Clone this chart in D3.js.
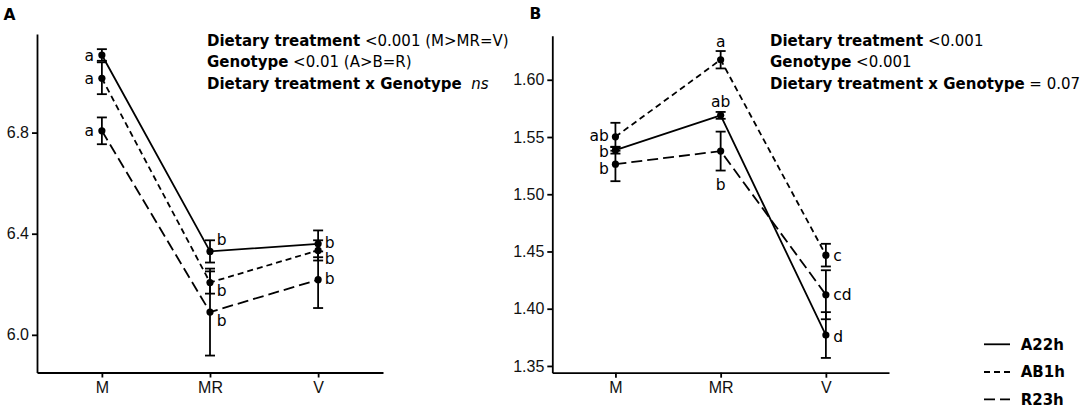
<!DOCTYPE html>
<html>
<head>
<meta charset="utf-8">
<script src="https://cdn.jsdelivr.net/npm/d3@7"></script>
<style>
  html, body { margin: 0; padding: 0; background: #fff; }
  svg { display: block; }
</style>
</head>
<body>
<svg id="chart" width="1084" height="412"></svg>
<script>
// ---------------- DATA ----------------
const categories = ["M", "MR", "V"];
const genotypes = ["A22h", "AB1h", "R23h"];

// Panel A means and error (SE)
const a_A22h = [7.107, 6.330, 6.360];
const a_AB1h = [7.015, 6.207, 6.334];
const a_R23h = [6.807, 6.090, 6.218];
const a_A22h_err = [0.023, 0.044, 0.053];
const a_AB1h_err = [0.063, 0.044, 0.040];
const a_R23h_err = [0.053, 0.172, 0.112];
const a_A22h_letters = ["a", "b", "b"];
const a_AB1h_letters = ["a", "b", "b"];
const a_R23h_letters = ["a", "b", "b"];
const a_ticks = [6.0, 6.4, 6.8];
const a_tickLabels = ["6.0", "6.4", "6.8"];

// Panel B means and error (SE)
const b_A22h = [1.5385, 1.5689, 1.3770];
const b_AB1h = [1.5502, 1.6175, 1.4468];
const b_R23h = [1.5263, 1.5377, 1.4122];
const b_A22h_err = [0.003, 0.003, 0.020];
const b_AB1h_err = [0.0122, 0.0076, 0.0099];
const b_R23h_err = [0.0149, 0.017, 0.0214];
const b_A22h_letters = ["b", "ab", "d"];
const b_AB1h_letters = ["ab", "a", "c"];
const b_R23h_letters = ["b", "b", "cd"];
const b_ticks = [1.35, 1.40, 1.45, 1.50, 1.55, 1.60];
const b_tickLabels = ["1.35", "1.40", "1.45", "1.50", "1.55", "1.60"];

// Annotation texts
const a_notes = [
  [["Dietary treatment", "b"], [" <0.001 (M>MR=V)", "r"]],
  [["Genotype", "b"], [" <0.01 (A>B=R)", "r"]],
  [["Dietary treatment x Genotype", "b"], ["  ns", "i"]]
];
const b_notes = [
  [["Dietary treatment", "b"], [" <0.001", "r"]],
  [["Genotype", "b"], [" <0.001", "r"]],
  [["Dietary treatment x Genotype", "b"], [" = 0.07", "r"]]
];

// ---------------- STYLE / LAYOUT ----------------
const dashes = { A22h: null, AB1h: "6,4", R23h: "11,5" };
const LW = 1.8;
const tickFont = "'Liberation Sans', Arial, sans-serif";
const wideFont = "'DejaVu Sans', sans-serif";

const svg = d3.select("#chart");

function buildSeries(means, errs, letters) {
  return genotypes.map((g, gi) => ({
    g,
    pts: categories.map((c, ci) => ({ c, v: means[gi][ci], e: errs[gi][ci], lab: letters[gi][ci] }))
  }));
}

const panels = [
  {
    key: "A",
    letterPos: [3.5, 19.5],
    x0: 37, x1: 383, yTop: 34, yBot: 372.5,
    domain: [5.851, 7.19],
    ticks: a_ticks, tickLabels: a_tickLabels,
    series: buildSeries([a_A22h, a_AB1h, a_R23h], [a_A22h_err, a_AB1h_err, a_R23h_err],
                        [a_A22h_letters, a_AB1h_letters, a_R23h_letters]),
    notes: a_notes, noteX: 207,
    lab: {
      M:  { anchor: "end",   dx: -8,  dy: { A22h: 1, AB1h: 0, R23h: 0 } },
      MR: { anchor: "start", dx: 6.7, dy: { A22h: -12, AB1h: 8, R23h: 8.7 } },
      V:  { anchor: "start", dx: 6.7, dy: { A22h: -1, AB1h: 8.5, R23h: -1 } }
    }
  },
  {
    key: "B",
    letterPos: [529.5, 18.5],
    x0: 552.3, x1: 889, yTop: 35.7, yBot: 372.7,
    domain: [1.3441, 1.6385],
    ticks: b_ticks, tickLabels: b_tickLabels,
    series: buildSeries([b_A22h, b_AB1h, b_R23h], [b_A22h_err, b_AB1h_err, b_R23h_err],
                        [b_A22h_letters, b_AB1h_letters, b_R23h_letters]),
    notes: b_notes, noteX: 770,
    lab: {
      M:  { anchor: "end",    dx: -6.5, dy: { A22h: 1.7, AB1h: -1.7, R23h: 4.3 } },
      MR: { anchor: "middle", dx: 0,    dy: { A22h: -13.6, AB1h: -18, R23h: 33 } },
      V:  { anchor: "start",  dx: 7.3,  dy: { A22h: 1.3, AB1h: 0, R23h: 0 } }
    }
  }
];

panels.forEach(p => {
  const x = d3.scalePoint().domain(categories).range([p.x0, p.x1]).padding(0.6);
  const y = d3.scaleLinear().domain(p.domain).range([p.yBot, p.yTop]);
  const g = svg.append("g");

  // panel letter
  g.append("text").attr("x", p.letterPos[0]).attr("y", p.letterPos[1])
    .attr("font-family", wideFont).attr("font-weight", "bold").attr("font-size", 15.5)
    .attr("fill", "#000").text(p.key);

  // axes
  const yAxis = d3.axisLeft(y).tickValues(p.ticks)
    .tickFormat((d, i) => p.tickLabels[i]).tickSizeInner(5).tickSizeOuter(0).tickPadding(3);
  const ya = g.append("g").attr("transform", `translate(${p.x0},0)`).call(yAxis);
  const xAxis = d3.axisBottom(x).tickSizeInner(5).tickSizeOuter(0).tickPadding(4);
  const xa = g.append("g").attr("transform", `translate(0,${p.yBot})`).call(xAxis);
  [ya, xa].forEach(a => {
    a.selectAll("path.domain").attr("stroke", "#000").attr("stroke-width", LW);
    a.selectAll(".tick line").attr("stroke", "#000").attr("stroke-width", LW);
    a.selectAll(".tick text").attr("font-family", tickFont).attr("font-size", 16).attr("fill", "#111");
  });

  // lines
  const line = d3.line().x(d => x(d.c)).y(d => y(d.v));
  p.series.forEach(s => {
    g.append("path").datum(s.pts).attr("d", line)
      .attr("fill", "none").attr("stroke", "#000").attr("stroke-width", LW)
      .attr("stroke-dasharray", dashes[s.g]);
  });

  // error bars
  p.series.forEach(s => {
    const eb = g.append("g").selectAll("g").data(s.pts).join("g");
    eb.append("line").attr("x1", d => x(d.c)).attr("x2", d => x(d.c))
      .attr("y1", d => y(d.v - d.e)).attr("y2", d => y(d.v + d.e))
      .attr("stroke", "#000").attr("stroke-width", LW);
    [-1, 1].forEach(sgn => {
      eb.append("line").attr("x1", d => x(d.c) - 5).attr("x2", d => x(d.c) + 5)
        .attr("y1", d => y(d.v + sgn * d.e)).attr("y2", d => y(d.v + sgn * d.e))
        .attr("stroke", "#000").attr("stroke-width", LW);
    });
  });

  // points
  p.series.forEach(s => {
    g.append("g").selectAll("circle").data(s.pts).join("circle")
      .attr("cx", d => x(d.c)).attr("cy", d => y(d.v)).attr("r", 3.6).attr("fill", "#000");
  });

  // letters
  p.series.forEach(s => {
    g.append("g").selectAll("text").data(s.pts).join("text")
      .attr("x", d => x(d.c) + p.lab[d.c].dx)
      .attr("y", d => y(d.v) + p.lab[d.c].dy[s.g])
      .attr("dy", "0.35em")
      .attr("text-anchor", d => p.lab[d.c].anchor)
      .attr("font-family", wideFont).attr("font-size", 15.5).attr("fill", "#000")
      .text(d => d.lab);
  });

  // annotations
  const baselines = [45.7, 67.3, 89];
  p.notes.forEach((ln, i) => {
    const t = g.append("text").attr("x", p.noteX).attr("y", baselines[i])
      .attr("font-family", wideFont).attr("font-size", 15).attr("fill", "#000")
      .attr("xml:space", "preserve").style("white-space", "pre");
    ln.forEach(([txt, st]) => {
      t.append("tspan")
        .attr("font-weight", st === "b" ? "bold" : "normal")
        .attr("font-style", st === "i" ? "italic" : "normal")
        .text(txt);
    });
  });
});

// legend
const legY = [344.3, 372, 399.3];
const leg = svg.append("g");
genotypes.forEach((gname, i) => {
  leg.append("line").attr("x1", 984).attr("x2", 1010).attr("y1", legY[i]).attr("y2", legY[i])
    .attr("stroke", "#000").attr("stroke-width", LW).attr("stroke-dasharray", dashes[gname]);
  leg.append("text").attr("x", 1020.7).attr("y", legY[i]).attr("dy", "0.36em")
    .attr("font-family", wideFont).attr("font-weight", "bold").attr("font-size", 15)
    .attr("fill", "#000").text(gname);
});
</script>
</body>
</html>
